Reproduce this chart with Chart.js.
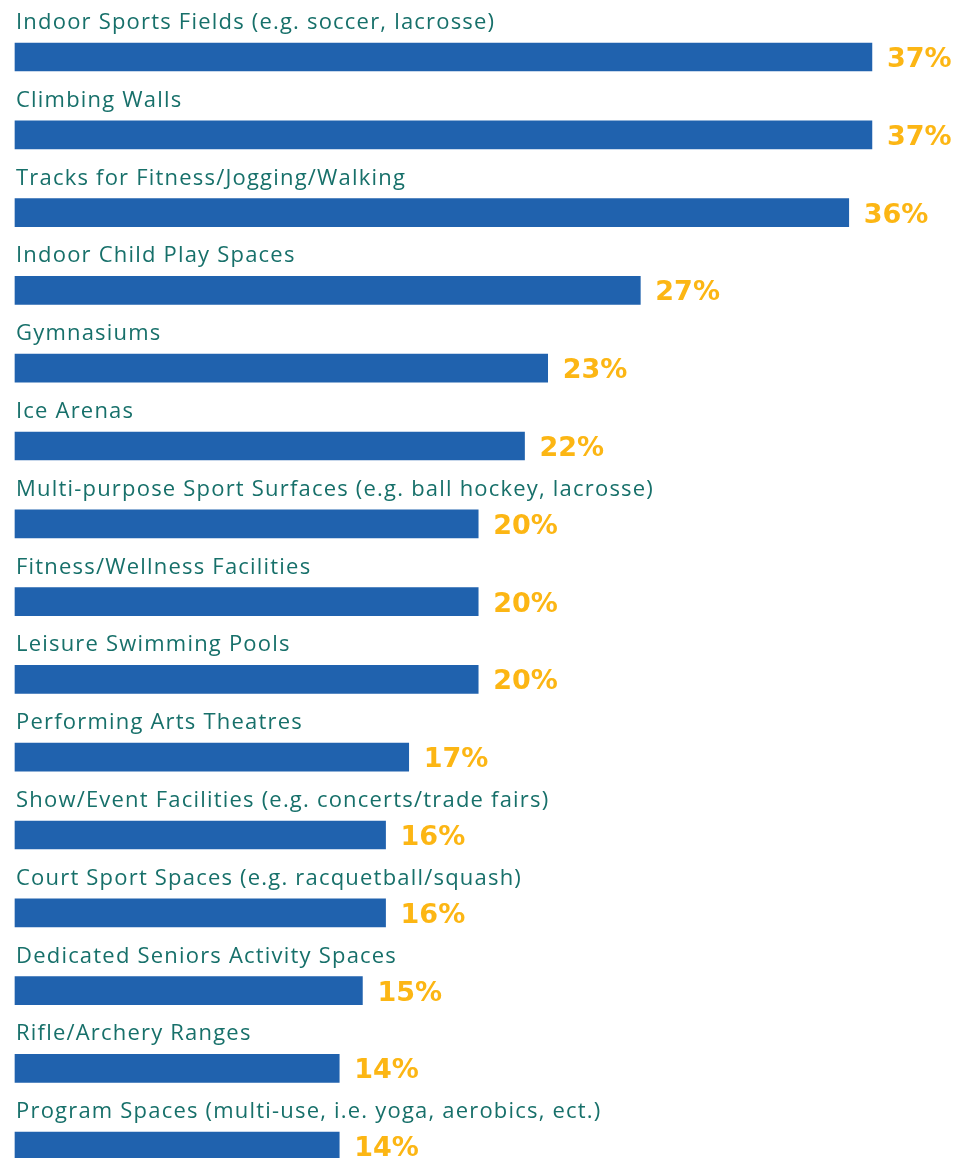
<!DOCTYPE html>
<html>
<head>
<meta charset="utf-8">
<script src="https://cdn.jsdelivr.net/npm/chart.js@4/dist/chart.umd.min.js"></script>
<style>
  html, body { margin: 0; padding: 0; background: #ffffff; }
  #wrap { width: 972px; height: 1158px; position: relative; }
</style>
</head>
<body>
<div id="wrap"><canvas id="facilities-chart"></canvas></div>
<script>
// Facility types and share of responses (%)
const categories = [
    'Indoor Sports Fields (e.g. soccer, lacrosse)',
    'Climbing Walls',
    'Tracks for Fitness/Jogging/Walking',
    'Indoor Child Play Spaces',
    'Gymnasiums',
    'Ice Arenas',
    'Multi-purpose Sport Surfaces (e.g. ball hockey, lacrosse)',
    'Fitness/Wellness Facilities',
    'Leisure Swimming Pools',
    'Performing Arts Theatres',
    'Show/Event Facilities (e.g. concerts/trade fairs)',
    'Court Sport Spaces (e.g. racquetball/squash)',
    'Dedicated Seniors Activity Spaces',
    'Rifle/Archery Ranges',
    'Program Spaces (multi-use, i.e. yoga, aerobics, ect.)'
];
const values = [37, 37, 36, 27, 23, 22, 20, 20, 20, 17, 16, 16, 15, 14, 14];

const barColor = '#2062ae';
const labelColor = '#17706a';
const valueColor = '#fcb614';

// category name above each bar, percentage to the right of it
const barLabels = {
    id: 'barLabels',
    afterDatasetsDraw(chart) {
        const ctx = chart.ctx;
        const meta = chart.getDatasetMeta(0);
        const left = chart.chartArea.left;
        ctx.save();
        meta.data.forEach((bar, i) => {
            ctx.textAlign = 'left';
            ctx.textBaseline = 'alphabetic';
            ctx.fillStyle = labelColor;
            ctx.font = '22px "Open Sans"';
            ctx.letterSpacing = '1.2px';
            ctx.fillText(categories[i], left + 1, bar.y - 28);

            ctx.fillStyle = valueColor;
            ctx.font = 'bold 27px "DejaVu Sans"';
            ctx.letterSpacing = '0px';
            ctx.fillText(values[i] + '%', bar.x + 15, bar.y + 10);
        });
        ctx.restore();
    }
};

const ctx = document.getElementById('facilities-chart').getContext('2d');
new Chart(ctx, {
    type: 'bar',
    data: {
        labels: categories,
        datasets: [{
            data: values,
            backgroundColor: barColor,
            barThickness: 28,
            clip: false
        }]
    },
    options: {
        indexAxis: 'y',
        responsive: true,
        maintainAspectRatio: false,
        animation: false,
        layout: {
            padding: { left: 15, right: 30.6, top: 57, bottom: 11.8 }
        },
        scales: {
            x: { display: false, min: 0, max: 40 },
            y: { display: false, offset: false }
        },
        plugins: {
            legend: { display: false },
            tooltip: { enabled: false }
        }
    },
    plugins: [barLabels]
});
</script>
</body>
</html>
